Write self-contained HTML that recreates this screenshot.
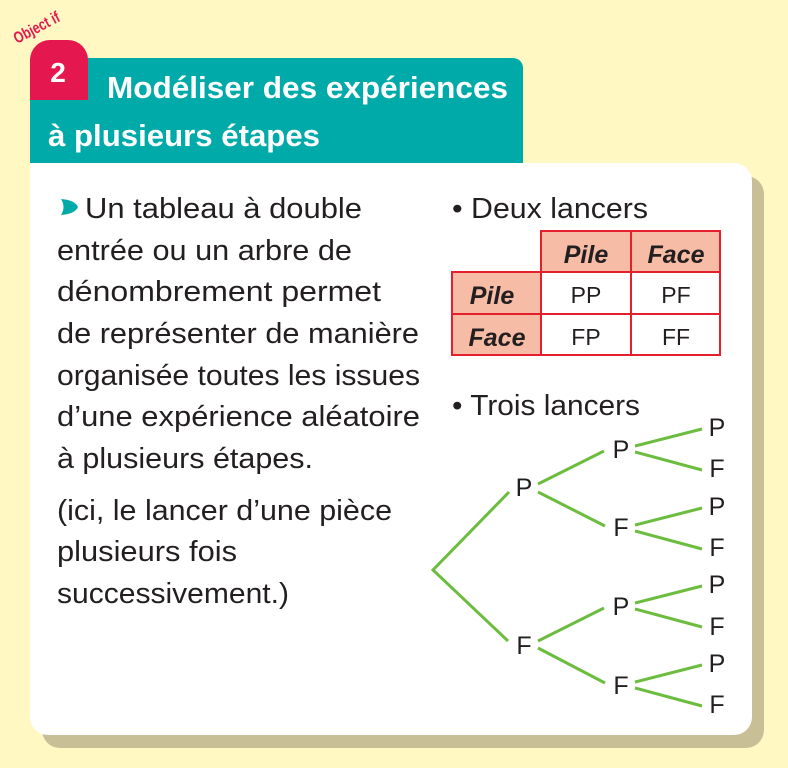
<!DOCTYPE html>
<html><head><meta charset="utf-8"><style>
html,body{margin:0;padding:0;background:#fff8c3;}
svg{display:block}
</style></head><body>
<svg width="788" height="768" viewBox="0 0 788 768" xmlns="http://www.w3.org/2000/svg" font-family="Liberation Sans, sans-serif">
<rect width="788" height="768" fill="#fff8c3"/>
<rect x="42" y="176" width="722" height="572" rx="18" fill="#c9bf97"/>
<rect x="30" y="163" width="722" height="572" rx="18" fill="#fff"/>
<rect x="30" y="163" width="30" height="30" fill="#fff"/>
<path d="M30 58 H513 a10 10 0 0 1 10 10 V163 H30 Z" fill="#00aaa9"/>
<path d="M30 100 V60 a20 20 0 0 1 20 -20 H68 a20 20 0 0 1 20 20 V100 Z" fill="#e5174f"/>
<text x="58" y="82" fill="#fff" font-size="28" font-weight="bold" text-anchor="middle">2</text>
<text x="17" y="44" fill="#e5174f" font-size="16" font-weight="bold" transform="rotate(-28 17 44)" textLength="50" lengthAdjust="spacingAndGlyphs">Object if</text>
<text x="107" y="98" fill="#fff" font-size="31" font-weight="bold" textLength="401" lengthAdjust="spacingAndGlyphs">Modéliser des expériences</text>
<text x="48" y="146" fill="#fff" font-size="31" font-weight="bold" textLength="272" lengthAdjust="spacingAndGlyphs">à plusieurs étapes</text>
<path d="M61 199 Q75 200 78 207 Q75 214 61 215 Q66 207 61 199 Z" fill="#00aaa9"/>
<g fill="#231f20" font-size="29">
<text x="85" y="218" textLength="277" lengthAdjust="spacingAndGlyphs">Un tableau à double</text>
<text x="57" y="260" textLength="295" lengthAdjust="spacingAndGlyphs">entrée ou un arbre de</text>
<text x="57" y="301" textLength="324" lengthAdjust="spacingAndGlyphs">dénombrement permet</text>
<text x="57" y="343" textLength="362" lengthAdjust="spacingAndGlyphs">de représenter de manière</text>
<text x="57" y="385" textLength="363" lengthAdjust="spacingAndGlyphs">organisée toutes les issues</text>
<text x="57" y="426" textLength="363" lengthAdjust="spacingAndGlyphs">d’une expérience aléatoire</text>
<text x="57" y="468" textLength="256" lengthAdjust="spacingAndGlyphs">à plusieurs étapes.</text>
<text x="57" y="520" textLength="335" lengthAdjust="spacingAndGlyphs">(ici, le lancer d’une pièce</text>
<text x="57" y="561" textLength="180" lengthAdjust="spacingAndGlyphs">plusieurs fois</text>
<text x="57" y="603" textLength="232" lengthAdjust="spacingAndGlyphs">successivement.)</text>
<text x="452" y="218" textLength="196" lengthAdjust="spacingAndGlyphs">• Deux lancers</text>
<text x="452" y="415" textLength="188" lengthAdjust="spacingAndGlyphs">• Trois lancers</text>
</g>
<g stroke="#e3202b" stroke-width="2">
<rect x="541" y="231" width="179" height="41" fill="#f6bca6"/>
<rect x="452" y="272" width="89" height="83" fill="#f6bca6"/>
<rect x="541" y="272" width="179" height="83" fill="#fff"/>
<line x1="631" y1="231" x2="631" y2="355"/>
<line x1="452" y1="314" x2="720" y2="314"/>
</g>
<g fill="#231f20" font-size="25" text-anchor="middle">
<text x="586" y="263" font-style="italic" font-weight="bold">Pile</text>
<text x="676" y="263" font-style="italic" font-weight="bold">Face</text>
<text x="492" y="304" font-style="italic" font-weight="bold">Pile</text>
<text x="497" y="346" font-style="italic" font-weight="bold">Face</text>
<text x="586" y="303" font-size="23">PP</text>
<text x="676" y="303" font-size="23">PF</text>
<text x="586" y="345" font-size="23">FP</text>
<text x="676" y="345" font-size="23">FF</text>
</g>
<g stroke="#6cbd3f" stroke-width="3" fill="none">
<polyline points="509,492 433,570 508,641"/>
<line x1="538" y1="484" x2="604" y2="451"/><line x1="538" y1="492" x2="605" y2="526"/>
<line x1="538" y1="641" x2="604" y2="608"/><line x1="538" y1="648" x2="605" y2="683"/>
<line x1="635" y1="446" x2="702" y2="429"/><line x1="635" y1="452" x2="702" y2="470"/>
<line x1="635" y1="525" x2="702" y2="508"/><line x1="635" y1="531" x2="702" y2="549"/>
<line x1="635" y1="603" x2="702" y2="586"/><line x1="635" y1="609" x2="702" y2="627"/>
<line x1="635" y1="682" x2="702" y2="665"/><line x1="635" y1="688" x2="702" y2="706"/>
</g>
<g fill="#231f20" font-size="25" text-anchor="middle">
<text x="524" y="496">P</text><text x="524" y="654">F</text>
<text x="621" y="458">P</text><text x="621" y="536">F</text>
<text x="621" y="615">P</text><text x="621" y="694">F</text>
<text x="717" y="436">P</text><text x="717" y="477">F</text>
<text x="717" y="515">P</text><text x="717" y="556">F</text>
<text x="717" y="593">P</text><text x="717" y="635">F</text>
<text x="717" y="672">P</text><text x="717" y="713">F</text>
</g>
</svg>
</body></html>
